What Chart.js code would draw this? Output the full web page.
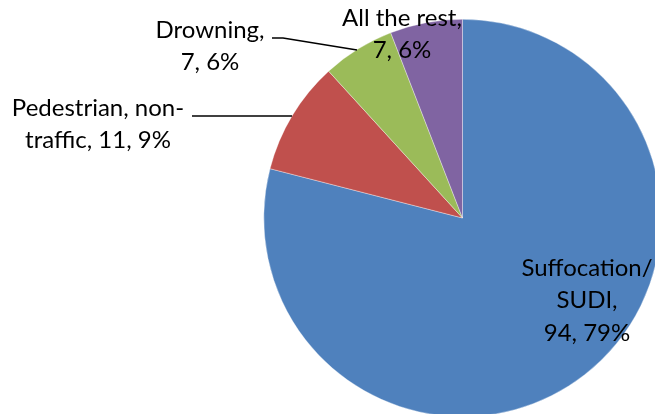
<!DOCTYPE html>
<html><head><meta charset="utf-8">
<script src="https://cdn.jsdelivr.net/npm/chart.js@4/dist/chart.umd.min.js"></script>
<style>
html,body{margin:0;padding:0;background:#fff;overflow:hidden;width:655px;height:414px;}
#wrap{position:absolute;left:0;top:0;width:700px;height:440px;}
</style></head>
<body>
<div id="wrap"><canvas id="c" width="700" height="440"></canvas></div>
<script>
const categories = ["Suffocation/SUDI", "Pedestrian, non-traffic", "Drowning", "All the rest"];
const values = [94, 11, 7, 7];
const percents = ["79%", "9%", "6%", "6%"];
const colors = ["#4F81BD", "#C0504D", "#9BBB59", "#8064A2"];

// label layout: lines, center x, first line center y, leader line target
const labelLayout = [
  {lines: ["Suffocation/", "SUDI,", "94, 79%"], x: 587, y: 268, leader: null},
  {lines: ["Pedestrian, non-", "traffic, 11, 9%"], x: 98, y: 108, leader: [[192,116],[292,116]]},
  {lines: ["Drowning,", "7, 6%"], x: 210, y: 30, leader: [[272,38],[283,38],[357,50]]},
  {lines: ["All the rest,", "7, 6%"], x: 402, y: 18, leader: null}
];

const labelPlugin = {
  id: 'labels',
  afterDraw(chart) {
    const ctx = chart.ctx;
    ctx.save();
    ctx.font = '24px Lato, "Open Sans", sans-serif';
    ctx.fillStyle = '#000';
    ctx.textAlign = 'center';
    ctx.textBaseline = 'middle';
    const lh = 32.5;
    labelLayout.forEach(l => {
      l.lines.forEach((t, i) => ctx.fillText(t, l.x, l.y + i * lh));
      if (l.leader) {
        ctx.beginPath();
        ctx.strokeStyle = '#000';
        ctx.lineWidth = 1.3;
        l.leader.forEach((p, i) => i ? ctx.lineTo(p[0], p[1]) : ctx.moveTo(p[0], p[1]));
        ctx.stroke();
      }
    });
    ctx.restore();
  }
};

new Chart(document.getElementById('c'), {
  type: 'pie',
  data: {
    labels: categories,
    datasets: [{
      data: values,
      backgroundColor: colors,
      borderColor: 'rgba(255,255,255,0.6)',
      borderWidth: 0.6
    }]
  },
  options: {
    responsive: false,
    animation: false,
    devicePixelRatioOverride: 1,
    layout: {padding: {left: 263.5, top: 19, right: 38.5, bottom: 23}},
    plugins: {legend: {display: false}, tooltip: {enabled: false}}
  },
  plugins: [labelPlugin]
});
</script>
</body></html>
